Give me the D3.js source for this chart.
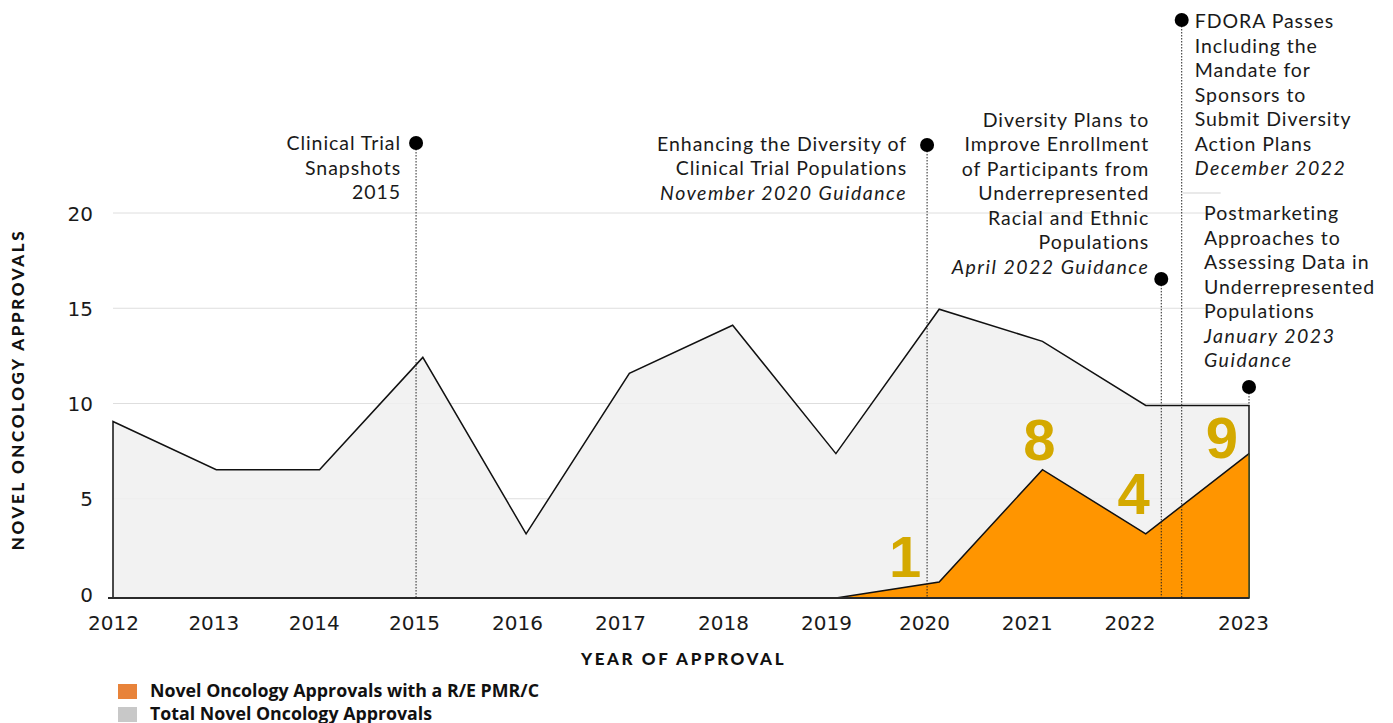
<!DOCTYPE html>
<html>
<head>
<meta charset="utf-8">
<script src="https://cdn.jsdelivr.net/npm/d3@7/dist/d3.min.js"></script>
<style>
  html, body { margin: 0; padding: 0; background: #fff; }
  svg { display: block; }
  .tick text { font-family: "DejaVu Sans", Verdana, sans-serif; font-size: 20px; fill: #1a1a1a; }
  .note { font-family: Lato, "Open Sans", sans-serif; font-size: 19.5px; letter-spacing: 0.95px; fill: #1a1a1a; }
  .note tspan.it { letter-spacing: 1.5px; }
  .axis-title { font-family: Lato, sans-serif; font-weight: 900; font-size: 17px; letter-spacing: 2.6px; fill: #111; }
  .legend text { font-family: "Open Sans", sans-serif; font-weight: 700; font-size: 17.8px; fill: #111; }
  .callout { font-family: "Liberation Sans", Arial, sans-serif; font-weight: 700; font-size: 58px; fill: #d4a900; }
</style>
</head>
<body>
<svg id="chart" width="1393" height="723"></svg>
<script>
// Novel oncology approvals per year
const years = [2012, 2013, 2014, 2015, 2016, 2017, 2018, 2019, 2020, 2021, 2022, 2023];
const totalApprovals = [11, 8, 8, 15, 4, 14, 17, 9, 18, 16, 12, 12];
const pmrApprovals   = [0, 0, 0, 0, 0, 0, 0, 0, 1, 8, 4, 9];
const yTickLabels = [0, 5, 10, 15, 20];

// Guidance / legislation milestones along the timeline
const milestones = [
  { at: 2015.02, level: 28.36, side: "left",  dx: -15, dy: 7,
    lines: [["Clinical Trial"], ["Snapshots"], ["2015"]] },
  { at: 2020.03, level: 28.24, side: "left",  dx: -20, dy: 6,
    lines: [["Enhancing the Diversity of"], ["Clinical Trial Populations"], ["November 2020 Guidance", "i"]] },
  { at: 2022.28, level: 19.89, side: "left",  dx: -12, dy: -152,
    lines: [["Diversity Plans to"], ["Improve Enrollment"], ["of Participants from"], ["Underrepresented"],
            ["Racial and Ethnic"], ["Populations"], ["April 2022 Guidance", "i"]] },
  { at: 2022.46, level: 36.03, side: "right", dx: 13, dy: 8,
    lines: [["FDORA Passes"], ["Including the"], ["Mandate for"], ["Sponsors to"], ["Submit Diversity"],
            ["Action Plans"], ["December 2022", "i"]] }
];
const finalMilestone = { year: 2023, level: 13.15, dx: -45, dy: -167,
  lines: [["Postmarketing"], ["Approaches to"], ["Assessing Data in"], ["Underrepresented"], ["Populations"],
          ["January 2023", "i"], ["Guidance", "i"]] };

const legendItems = [
  { label: "Novel Oncology Approvals with a R/E PMR/C", color: "#e8833a" },
  { label: "Total Novel Oncology Approvals", color: "#c8c8c8" }
];

const svg = d3.select("#chart");
const rows = years.map((year, i) => ({ year, total: totalApprovals[i], pmr: pmrApprovals[i] }));

// Scales
const x = d3.scaleLinear().domain([2012, 2023]).range([113, 1249]);
const y = d3.scaleLinear().domain([0, 24]).range([598, 213]);
const xAxisScale = d3.scaleLinear()
  .domain([2012, 2015, 2019, 2020, 2022, 2023])
  .range([113, 414, 826, 924, 1129.5, 1243]);
const yAxisScale = d3.scaleLinear().domain([0, 20]).range([594, 213]);

// Gridlines
svg.append("g")
  .selectAll("line")
  .data(yTickLabels.filter(d => d > 0))
  .join("line")
  .attr("x1", x(2012)).attr("x2", x(2023))
  .attr("y1", d => yAxisScale(d)).attr("y2", d => yAxisScale(d))
  .attr("stroke", "#dedede").attr("stroke-width", 1);

// Total approvals area
const totalArea = d3.area().x(d => x(d.year)).y0(y(0)).y1(d => y(d.total));
svg.append("path")
  .datum(rows)
  .attr("d", totalArea)
  .attr("fill", "#f0f0f0")
  .attr("fill-opacity", 0.85)
  .attr("stroke", "#111")
  .attr("stroke-width", 1.5)
  .attr("stroke-linejoin", "miter");

// Approvals with a R/E PMR/C
const pmrArea = d3.area().x(d => x(d.year)).y0(y(0)).y1(d => y(d.pmr));
svg.append("path")
  .datum(rows)
  .attr("d", pmrArea)
  .attr("fill", "#ff9500");
svg.append("path")
  .datum(rows)
  .attr("d", d3.line().x(d => x(d.year)).y(d => y(d.pmr)))
  .attr("fill", "none")
  .attr("stroke", "#111")
  .attr("stroke-width", 1.5);
const last = rows[rows.length - 1];
svg.append("line")
  .attr("x1", x(last.year)).attr("x2", x(last.year))
  .attr("y1", y(last.pmr)).attr("y2", y(0))
  .attr("stroke", "#3b4a22").attr("stroke-width", 1.5);

// Baseline
svg.append("line")
  .attr("x1", x(2012) - 5).attr("x2", x(2023))
  .attr("y1", y(0)).attr("y2", y(0))
  .attr("stroke", "#2a2a2a").attr("stroke-width", 2);

// Axes
const xAxis = svg.append("g")
  .attr("transform", `translate(0,${y(0) + 6})`)
  .call(d3.axisBottom(xAxisScale).tickValues(years).tickFormat(d3.format("d")).tickSize(0));
xAxis.select(".domain").remove();
xAxis.selectAll("text").attr("dy", "1.15em");

const yAxis = svg.append("g")
  .attr("transform", "translate(103,0)")
  .call(d3.axisLeft(yAxisScale).tickValues(yTickLabels).tickSize(0));
yAxis.select(".domain").remove();
yAxis.selectAll("text").attr("x", -10).attr("dy", "0.36em");

svg.append("text")
  .attr("class", "axis-title")
  .attr("x", 683.5).attr("y", 665)
  .attr("text-anchor", "middle")
  .text("YEAR OF APPROVAL");
svg.append("text")
  .attr("class", "axis-title")
  .attr("transform", "translate(24,389.5) rotate(-90)")
  .attr("text-anchor", "middle")
  .text("NOVEL ONCOLOGY APPROVALS");

// Milestone markers
function drawNote(px, py, m, anchor) {
  const t = svg.append("text")
    .attr("class", "note")
    .attr("text-anchor", anchor);
  m.lines.forEach(([str, style], i) => {
    t.append("tspan")
      .attr("x", px + m.dx)
      .attr("y", py + m.dy + i * 24.5)
      .attr("class", style === "i" ? "it" : null)
      .attr("font-style", style === "i" ? "italic" : null)
      .text(str);
  });
}

milestones.forEach(m => {
  const px = xAxisScale(m.at), py = y(m.level);
  svg.append("line")
    .attr("x1", px).attr("x2", px).attr("y1", py).attr("y2", y(0))
    .attr("stroke", "#222").attr("stroke-width", 1).attr("stroke-dasharray", "1.5,1.5");
  svg.append("circle").attr("cx", px).attr("cy", py).attr("r", 7).attr("fill", "#000");
  drawNote(px, py, m, m.side === "left" ? "end" : "start");
});

// short rule under the FDORA note
const fdoraX = xAxisScale(milestones[3].at);
svg.append("line")
  .attr("x1", fdoraX + 1).attr("x2", fdoraX + 39)
  .attr("y1", 193).attr("y2", 193)
  .attr("stroke", "#e2e2e2").attr("stroke-width", 1.5);

{
  const m = finalMilestone;
  const px = x(m.year), py = y(m.level);
  const endRow = rows.find(r => r.year === m.year);
  svg.append("line")
    .attr("x1", px).attr("x2", px).attr("y1", py).attr("y2", y(endRow.total))
    .attr("stroke", "#222").attr("stroke-width", 1).attr("stroke-dasharray", "1.5,1.5");
  svg.append("circle").attr("cx", px).attr("cy", py).attr("r", 7).attr("fill", "#000");
  drawNote(px, py, m, "start");
}

// Value callouts for approvals with a R/E PMR/C
const calloutOffsets = { 2020: [-34, -5], 2021: [-3, -10], 2022: [-12, -20], 2023: [-27, 4] };
svg.append("g")
  .selectAll("text")
  .data(rows.filter(r => r.pmr > 0))
  .join("text")
  .attr("class", "callout")
  .attr("text-anchor", "middle")
  .attr("x", d => x(d.year) + calloutOffsets[d.year][0])
  .attr("y", d => y(d.pmr) + calloutOffsets[d.year][1])
  .text(d => d.pmr);

// Legend
const legend = svg.append("g").attr("class", "legend");
legendItems.forEach((item, i) => {
  legend.append("rect")
    .attr("x", 118).attr("y", 684 + i * 23)
    .attr("width", 19).attr("height", 15)
    .attr("fill", item.color);
  legend.append("text")
    .attr("x", 150).attr("y", 697 + i * 22.5)
    .text(item.label);
});
</script>
</body>
</html>
